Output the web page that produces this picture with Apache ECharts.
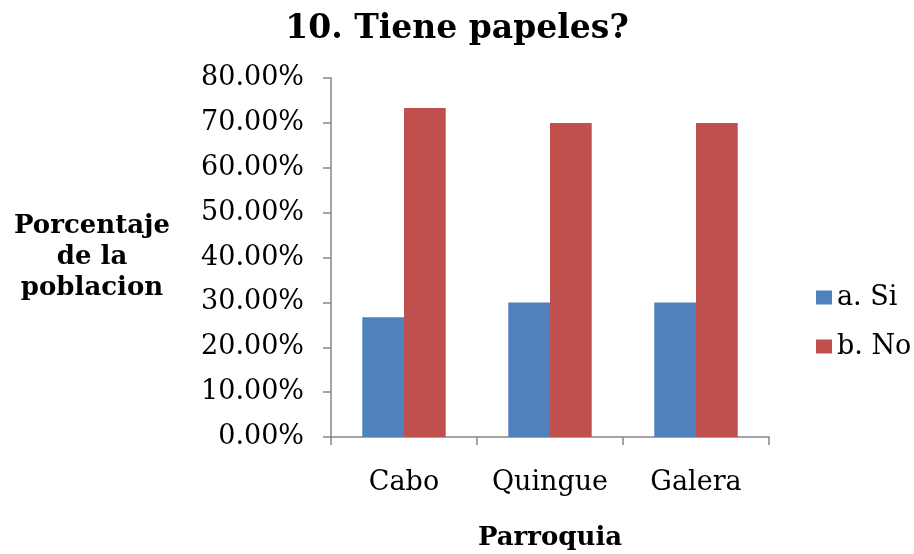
<!DOCTYPE html>
<html><head><meta charset="utf-8">
<script src="https://cdn.jsdelivr.net/npm/echarts@6/dist/echarts.min.js"></script>
<style>html,body{margin:0;padding:0;background:#fff}#c{width:914px;height:554px}</style>
</head><body><div id="c"></div>
<script>
const categories = ['Cabo', 'Quingue', 'Galera'];
const seriesNames = ['a. Si', 'b. No'];
const siValues = [26.67, 30.0, 30.0];
const noValues = [73.33, 70.0, 70.0];
const yTicks = [0, 10, 20, 30, 40, 50, 60, 70, 80];

const FONT = 'DejaVu Serif';
const chart = echarts.init(document.getElementById('c'), null, {renderer: 'canvas'});
chart.setOption({
  animation: false,
  backgroundColor: '#fff',
  title: {
    text: '10. Tiene papeles?',
    left: 'center', top: 8,
    textStyle: {fontFamily: FONT, fontWeight: 'bold', fontSize: 33, color: '#000'}
  },
  legend: {
    orient: 'vertical', left: 811, top: 279,
    itemWidth: 16, itemHeight: 14, itemGap: 22,
    icon: 'rect',
    textStyle: {fontFamily: FONT, fontSize: 27, color: '#000'},
    data: seriesNames
  },
  grid: {left: 331, right: 145, top: 78, bottom: 117, outerBoundsMode: 'none', containLabel: false},
  xAxis: {
    type: 'category', data: categories,
    axisLine: {lineStyle: {color: '#868686', width: 1.5}},
    axisTick: {show: true, length: 8, lineStyle: {color: '#868686', width: 1.5}},
    axisLabel: {fontFamily: FONT, fontSize: 27, color: '#000', margin: 32, interval: 0, hideOverlap: false},
    name: 'Parroquia', nameLocation: 'middle', nameGap: 88,
    nameTextStyle: {fontFamily: FONT, fontWeight: 'bold', fontSize: 26, color: '#000'}
  },
  yAxis: {
    type: 'value', min: 0, max: 80, interval: 10,
    axisLine: {show: true, lineStyle: {color: '#868686', width: 1.5}},
    axisTick: {show: true, length: 8, lineStyle: {color: '#868686', width: 1.5}},
    splitLine: {show: false},
    axisLabel: {fontFamily: FONT, fontSize: 27, color: '#000', margin: 27,
      formatter: v => yTicks.includes(v) ? v.toFixed(2) + '%' : ''},
    name: 'Porcentaje\nde la\npoblacion', nameLocation: 'middle', nameRotate: 0, nameGap: 239,
    nameTextStyle: {fontFamily: FONT, fontWeight: 'bold', fontSize: 26, color: '#000', lineHeight: 31, align: 'center'}
  },
  series: [
    {name: seriesNames[0], type: 'bar', data: siValues, barGap: '0%', barCategoryGap: '42.86%',
     itemStyle: {color: '#4F81BD'}},
    {name: seriesNames[1], type: 'bar', data: noValues, barGap: '0%', barCategoryGap: '42.86%',
     itemStyle: {color: '#C0504D'}}
  ]
});
</script></body></html>
